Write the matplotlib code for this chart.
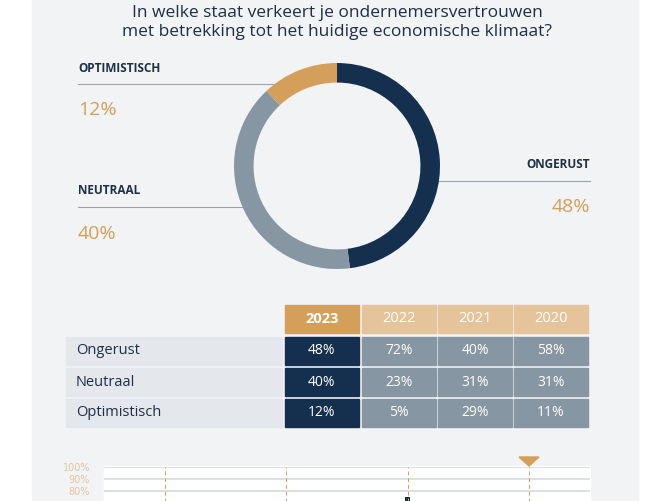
import matplotlib.pyplot as plt
from matplotlib.patches import Rectangle, Polygon

W, H = 668, 501
title = "In welke staat verkeert je ondernemersvertrouwen\nmet betrekking tot het huidige economische klimaat?"
categories = ["Ongerust", "Neutraal", "Optimistisch"]
donut_values = [48, 40, 12]
years = ["2023", "2022", "2021", "2020"]
table_values = {
    "2023": [48, 40, 12],
    "2022": [72, 23, 5],
    "2021": [40, 31, 29],
    "2020": [58, 31, 11],
}
bottom_ticks = [80, 90, 100]
bottom_bar_value = 75

NAVY = "#15304f"; GRAY = "#8796a3"; GOLD = "#d49f5b"; LGOLD = "#e6c49b"
BG = "#f2f3f5"; TXT = "#1e2f45"

fig = plt.figure(figsize=(W/100, H/100), dpi=100)
fig.patch.set_facecolor("white")
base = fig.add_axes([0, 0, 1, 1])
base.set_xlim(0, W); base.set_ylim(H, 0); base.axis("off")
base.add_patch(Rectangle((32, 0), 606, H, color=BG, zorder=0))
base.text(337, 22, title, ha="center", va="center", fontsize=12.5, color=TXT,
          family="Open Sans", linespacing=1.25)

# donut
cx, cy, R = 337, 166, 103
dax = fig.add_axes([(cx-R)/W, 1-(cy+R)/H, 2*R/W, 2*R/H])
dax.pie(donut_values, colors=[NAVY, GRAY, GOLD], startangle=90, counterclock=False,
        radius=1, wedgeprops=dict(width=0.19, edgecolor="none"))
dax.set_xlim(-1, 1); dax.set_ylim(-1, 1)
dax.set_aspect("equal")

# leader lines and labels
base.plot([78, 300], [84, 84], color="#9aa3ad", lw=0.8); base.plot(300, 84, "o", ms=2.5, color="#9aa3ad")
base.text(78, 68, "OPTIMISTISCH", fontsize=8.5, weight="bold", color=TXT, va="center", family="Open Sans")
base.text(78, 110, f"{donut_values[2]}%", fontsize=14, color=GOLD, va="center", family="Open Sans")
base.plot([78, 250], [207, 207], color="#9aa3ad", lw=0.8); base.plot(250, 207, "o", ms=2.5, color="#9aa3ad")
base.text(78, 191, "NEUTRAAL", fontsize=8.5, weight="bold", color=TXT, va="center", family="Open Sans")
base.text(78, 234, f"{donut_values[1]}%", fontsize=14, color=GOLD, va="center", family="Open Sans")
base.plot([432, 590], [181, 181], color="#9aa3ad", lw=0.8); base.plot(432, 181, "o", ms=2.5, color="#9aa3ad")
base.text(590, 164, "ONGERUST", fontsize=8.5, weight="bold", color=TXT, va="center", ha="right", family="Open Sans")
base.text(590, 207, f"{donut_values[0]}%", fontsize=14, color=GOLD, va="center", ha="right", family="Open Sans")

# table
col_x = [285, 362, 438, 514]; cw = 74
hy, hh = 305, 28
row_y = [337, 368, 399]; rh = 28
for i, y in enumerate(years):
    base.add_patch(Rectangle((col_x[i], hy), cw, hh, color=GOLD if i == 0 else LGOLD))
    base.text(col_x[i]+cw/2, hy+hh/2, y, ha="center", va="center", color="white",
              fontsize=10.5, weight="bold" if i == 0 else "normal", family="Open Sans")
for r, cat in enumerate(categories):
    y = row_y[r]
    base.add_patch(Rectangle((66, y), 216, rh, color="#e4e7eb"))
    base.text(76, y+rh/2, cat, va="center", fontsize=10.5, color=TXT, family="Open Sans")
    for i, yr in enumerate(years):
        base.add_patch(Rectangle((col_x[i], y), cw, rh, color=NAVY if i == 0 else GRAY))
        base.text(col_x[i]+cw/2, y+rh/2, f"{table_values[yr][r]}%", ha="center", va="center",
                  color="white", fontsize=10, family="Open Sans")

# bottom chart (partially visible)
base.add_patch(Rectangle((104, 466), 486, 60, color="white", zorder=1))
bx = fig.add_axes([104/W, 1-(467+120)/H, 486/W, 120/H], facecolor="none")
bx.set_xlim(0, 4); bx.set_ylim(0, 100)
for s in bx.spines.values(): s.set_visible(False)
bx.set_yticks(bottom_ticks, [f"{t}%" for t in bottom_ticks])
bx.tick_params(axis="y", length=0, labelsize=7, labelcolor=LGOLD, pad=10)
bx.set_xticks([])
for t in bottom_ticks:
    bx.axhline(t, color="#d5d9de", lw=1.2)
for xv in [0.5, 1.5, 2.5, 3.5]:
    bx.axvline(xv, color=GOLD, lw=0.7, ls=(0, (4, 3)))
bx.bar([2.5], [bottom_bar_value], width=0.04, color=NAVY)
base.add_patch(Polygon([[519, 457], [539, 457], [529, 466]], color=GOLD, zorder=3))

fig.savefig("out.png", dpi=100)
